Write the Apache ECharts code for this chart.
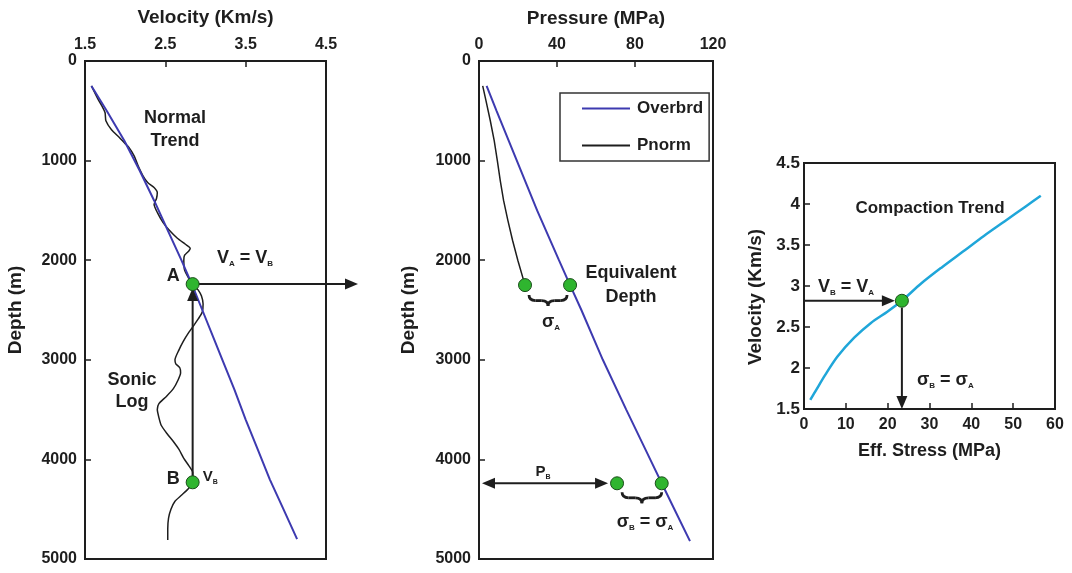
<!DOCTYPE html>
<html><head><meta charset="utf-8">
<script src="https://cdn.jsdelivr.net/npm/echarts@6/dist/echarts.min.js"></script>
<style>html,body{margin:0;padding:0;background:#fff}#c{width:1072px;height:573px}</style>
</head><body><div id="c"></div>
<script>
// ---------- DATA ----------
// Panel 1: velocity vs depth
const normalTrend = [[1.58,250],[1.77,500],[1.99,800],[2.18,1100],[2.36,1400],[2.53,1700],[2.70,2000],[2.83,2240],[2.96,2500],[3.11,2800],[3.21,3000],[3.36,3300],[3.50,3600],[3.65,3900],[3.80,4200],[3.97,4500],[4.14,4800]];
const sonicLog = [[1.58,250],[1.66,380],[1.71,450],[1.75,520],[1.76,600],[1.83,690],[1.93,770],[2.00,830],[2.04,860],[2.11,950],[2.16,1050],[2.22,1150],[2.28,1220],[2.36,1270],[2.40,1320],[2.39,1380],[2.36,1440],[2.40,1520],[2.47,1620],[2.55,1700],[2.65,1780],[2.75,1840],[2.81,1880],[2.79,1910],[2.74,1950],[2.73,2000],[2.74,2100],[2.79,2180],[2.84,2240],[2.91,2300],[2.95,2360],[2.97,2440],[2.96,2520],[2.91,2590],[2.85,2660],[2.78,2740],[2.72,2820],[2.67,2900],[2.62,3000],[2.63,3040],[2.68,3080],[2.69,3130],[2.66,3200],[2.60,3290],[2.51,3370],[2.42,3440],[2.40,3500],[2.42,3580],[2.45,3660],[2.52,3740],[2.60,3820],[2.67,3900],[2.73,3990],[2.79,4060],[2.84,4130],[2.84,4230],[2.78,4300],[2.70,4360],[2.62,4420],[2.57,4500],[2.54,4590],[2.53,4700],[2.53,4810]];
const velPoints = [[2.84,2240],[2.84,4230]];
// Panel 2: pressure vs depth
const overbrdDepth = [250, 500, 1000, 1500, 2000, 2250, 2500, 3000, 3500, 4000, 4240, 4500, 4820];
const overbrdP     = [3.9, 9.0, 19.4, 29.8, 41.0, 46.7, 52.5, 63.5, 75.5, 87.8, 93.7, 100.2, 108.2];
const pnormDepth = [250, 400, 600, 800, 1000, 1200, 1400, 1600, 1800, 2000, 2250];
const pnormP     = [1.9, 3.6, 5.8, 7.8, 9.4, 10.9, 12.6, 14.8, 17.2, 19.9, 23.6];
const pressPoints = [[23.6,2250],[46.7,2250],[70.8,4240],[93.7,4240]];
// Panel 3: compaction trend
const effStress = [1.5, 3, 5, 8, 12, 16, 20, 23.4, 28, 33, 38, 43, 48, 53, 56.6];
const compVel   = [1.61, 1.74, 1.91, 2.14, 2.37, 2.55, 2.69, 2.82, 3.03, 3.23, 3.42, 3.61, 3.79, 3.97, 4.10];
const compPoint = [23.4, 2.82];
// Tick settings
const velTicks = {min:1.5, max:4.5, interval:1};
const depthTicks = {min:0, max:5000, interval:1000};
const pressTicks = {min:0, max:120, interval:40};
const stressTicks = {min:0, max:60, interval:10};
const compVelTicks = {min:1.5, max:4.5, interval:0.5};

// ---------- STYLE ----------
const FONT = '"Liberation Sans", Arial, Helvetica, sans-serif';
const INK = '#1e1e1e';
const BLUE = '#3d3ab0';
const CYAN = '#1fa6d9';
const GREEN = '#2fb52f';

const chart = echarts.init(document.getElementById('c'), null, {renderer:'canvas'});

function axisCommon(extra){
  return Object.assign({
    type:'value',
    axisLine:{show:true, lineStyle:{color:INK, width:2}},
    axisTick:{show:true, inside:true, length:6, lineStyle:{color:INK, width:1.5}},
    splitLine:{show:false},
    axisLabel:{color:INK, fontFamily:FONT, fontWeight:'bold', fontSize:16, margin:8, formatter:(v)=>String(v)},
    nameLocation:'middle',
    nameTextStyle:{color:INK, fontFamily:FONT, fontWeight:'bold', fontSize:19}
  }, extra);
}
const gridStyle = {show:true, borderColor:INK, borderWidth:2, backgroundColor:'transparent'};

const pointStyle = {symbol:'circle', symbolSize:13, itemStyle:{color:GREEN, borderColor:'#1b4d1b', borderWidth:1, opacity:1}, z:10};

const option = {
  animation:false,
  backgroundColor:'#fff',
  grid:[
    Object.assign({left:85, top:61, width:241, height:498}, gridStyle),
    Object.assign({left:479, top:61, width:234, height:498}, gridStyle),
    Object.assign({left:804, top:163, width:251, height:246}, gridStyle)
  ],
  xAxis:[
    axisCommon(Object.assign({gridIndex:0, position:'top', name:'Velocity (Km/s)', nameGap:34}, velTicks)),
    axisCommon(Object.assign({gridIndex:1, position:'top', name:'Pressure (MPa)', nameGap:33}, pressTicks)),
    axisCommon(Object.assign({gridIndex:2, position:'bottom', name:'Eff. Stress (MPa)', nameGap:33, nameTextStyle:{color:INK, fontFamily:FONT, fontWeight:'bold', fontSize:18}}, stressTicks))
  ],
  yAxis:[
    axisCommon(Object.assign({gridIndex:0, inverse:true, name:'Depth (m)', nameGap:60}, depthTicks)),
    axisCommon(Object.assign({gridIndex:1, inverse:true, name:'Depth (m)', nameGap:61}, depthTicks)),
    axisCommon(Object.assign({gridIndex:2, name:'Velocity (Km/s)', nameGap:39,
      nameTextStyle:{color:INK, fontFamily:FONT, fontWeight:'bold', fontSize:19, padding:[0,22,0,0]},
      axisLabel:{color:INK, fontFamily:FONT, fontWeight:'bold', fontSize:17, margin:4, formatter:(v)=>String(v)}}, compVelTicks))
  ],
  legend:{
    left:560, top:93, orient:'vertical', icon:'rect', itemWidth:48, itemHeight:2, itemGap:20,
    padding:[7,6,7,22], borderColor:'#333', borderWidth:1.5,
    textStyle:{color:INK, fontFamily:FONT, fontWeight:'bold', fontSize:17, padding:[0,0,0,2]},
    data:['Overbrd','Pnorm'], selectedMode:false
  },
  series:[
    {type:'line', name:'Normal Trend', xAxisIndex:0, yAxisIndex:0, data:normalTrend, showSymbol:false, lineStyle:{color:BLUE, width:2}, itemStyle:{color:BLUE}, z:3},
    {type:'line', name:'Sonic Log', xAxisIndex:0, yAxisIndex:0, data:sonicLog, showSymbol:false, smooth:0.2, lineStyle:{color:INK, width:1.5}, itemStyle:{color:INK}, z:2},
    Object.assign({type:'scatter', name:'velPts', xAxisIndex:0, yAxisIndex:0, data:velPoints}, pointStyle),
    {type:'line', name:'Overbrd', xAxisIndex:1, yAxisIndex:1, data:overbrdDepth.map((d,i)=>[overbrdP[i], d]), showSymbol:false, lineStyle:{color:BLUE, width:2}, itemStyle:{color:BLUE}, z:3},
    {type:'line', name:'Pnorm', xAxisIndex:1, yAxisIndex:1, data:pnormDepth.map((d,i)=>[pnormP[i], d]), showSymbol:false, lineStyle:{color:INK, width:1.5}, itemStyle:{color:INK}, z:2},
    Object.assign({type:'scatter', name:'pressPts', xAxisIndex:1, yAxisIndex:1, data:pressPoints}, pointStyle),
    {type:'line', name:'Compaction Trend', xAxisIndex:2, yAxisIndex:2, data:effStress.map((s,i)=>[s, compVel[i]]), showSymbol:false, smooth:0.3, lineStyle:{color:CYAN, width:2.5}, itemStyle:{color:CYAN}, z:3},
    Object.assign({type:'scatter', name:'compPt', xAxisIndex:2, yAxisIndex:2, data:[compPoint]}, pointStyle)
  ]
};
chart.setOption(option);

// ---------- ANNOTATIONS (positioned via the chart's own scales) ----------
function px(g, x, y){ return chart.convertToPixel({gridIndex:g}, [x, y]); }
function arrow(x1, y1, x2, y2, both){
  const L = 13, W = 5.5, els = [];
  const dx = x2-x1, dy = y2-y1, len = Math.hypot(dx,dy), ux = dx/len, uy = dy/len;
  const head = (tx, ty, ax, ay) => ({type:'polygon', z:5, shape:{points:[[tx,ty],[tx-ax*L-ay*W, ty-ay*L+ax*W],[tx-ax*L+ay*W, ty-ay*L-ax*W]]}, style:{fill:INK}});
  let sx = x1, sy = y1;
  if (both){ sx = x1+ux*L*0.8; sy = y1+uy*L*0.8; els.push(head(x1, y1, -ux, -uy)); }
  els.push({type:'line', z:5, shape:{x1:sx, y1:sy, x2:x2-ux*L*0.8, y2:y2-uy*L*0.8}, style:{stroke:INK, lineWidth:2}});
  els.push(head(x2, y2, ux, uy));
  return els;
}
function brace(xa, xb, y, h){
  const m = (xa+xb)/2, yh = y+h/2, q = Math.min(7, (xb-xa)/6);
  const st = {stroke:INK, lineWidth:2.8, fill:null};
  const qc = (x1,y1,cx,cy,x2,y2) => ({type:'bezierCurve', z:20, shape:{x1:x1,y1:y1,cpx1:cx,cpy1:cy,x2:x2,y2:y2}, style:st});
  const ln = (x1,y1,x2,y2) => ({type:'line', z:20, shape:{x1:x1,y1:y1,x2:x2,y2:y2}, style:st});
  return [
    qc(xa, y, xa, yh, xa+q, yh),
    ln(xa+q, yh, m-q, yh),
    qc(m-q, yh, m, yh, m, y+h),
    qc(m, y+h, m, yh, m+q, yh),
    ln(m+q, yh, xb-q, yh),
    qc(xb-q, yh, xb, yh, xb, y)
  ];
}
const rich = (fs) => ({
  m:{fontFamily:FONT, fontWeight:'bold', fontSize:fs, fill:INK},
  s:{fontFamily:FONT, fontWeight:'bold', fontSize:Math.round(fs*0.45), fill:INK, verticalAlign:'bottom', padding:[0,0,1,0]}
});
function txt(x, y, text, opts){
  opts = opts || {};
  const fs = opts.fs || 18;
  return {type:'text', z:30, x:x, y:y, style:{text:text, rich:rich(fs), fontFamily:FONT, fontWeight:'bold', fontSize:fs, fill:INK, align:opts.align||'center', verticalAlign:'middle', lineHeight:opts.lh||fs+4}};
}

const pA = px(0, velPoints[0][0], velPoints[0][1]);
const pB = px(0, velPoints[1][0], velPoints[1][1]);
const rightEdge0 = px(0, velTicks.max, 0)[0];
const leftEdge1 = px(1, pressTicks.min, 0)[0];
const q1 = px(1, pressPoints[0][0], pressPoints[0][1]);
const q2 = px(1, pressPoints[1][0], pressPoints[1][1]);
const q3 = px(1, pressPoints[2][0], pressPoints[2][1]);
const q4 = px(1, pressPoints[3][0], pressPoints[3][1]);
const pc = px(2, compPoint[0], compPoint[1]);
const c0 = px(2, stressTicks.min, compVelTicks.min);

const graphics = [];
// left panel arrows
graphics.push(...arrow(pB[0], pB[1]-6, pA[0], pA[1]+4, false));
graphics.push(...arrow(pA[0]+6, pA[1], rightEdge0+32, pA[1], false));
// middle panel P_B arrow
graphics.push(...arrow(leftEdge1+3, q3[1], q3[0]-9, q3[1], true));
// right panel arrows
graphics.push(...arrow(c0[0], pc[1], pc[0]-7, pc[1], false));
graphics.push(...arrow(pc[0], pc[1]+7, pc[0], c0[1], false));
// braces
graphics.push(...brace(q1[0]+4, q2[0]-3, q1[1]+10, 11));
graphics.push(...brace(q3[0]+5, q4[0], q3[1]+9, 11));
// texts
graphics.push(txt(175, 130, '{m|Normal}\n{m|Trend}', {lh:23}));
graphics.push(txt(132, 391, '{m|Sonic}\n{m|Log}', {lh:22}));
graphics.push(txt(217, 258, '{m|V}{s|A}{m| = V}{s|B}', {align:'left'}));
graphics.push(txt(pA[0]-13, pA[1]-8, '{m|A}', {align:'right'}));
graphics.push(txt(pB[0]-13, pB[1]-3, '{m|B}', {align:'right'}));
graphics.push(txt(pB[0]+10, pB[1]-5, '{m|V}{s|B}', {align:'left', fs:15}));
graphics.push(txt(631, 285, '{m|Equivalent}\n{m|Depth}', {lh:24}));
graphics.push(txt(551, 322, '{m|σ}{s|A}'));
graphics.push(txt(543, 472, '{m|P}{s|B}', {fs:15}));
graphics.push(txt(645, 522, '{m|σ}{s|B}{m| = σ}{s|A}'));
graphics.push(txt(930, 208, '{m|Compaction Trend}', {fs:17}));
graphics.push(txt(818, 287, '{m|V}{s|B}{m| = V}{s|A}', {align:'left'}));
graphics.push(txt(917, 380, '{m|σ}{s|B}{m| = σ}{s|A}', {align:'left'}));

chart.setOption({graphic:{elements:graphics}});
</script></body></html>
